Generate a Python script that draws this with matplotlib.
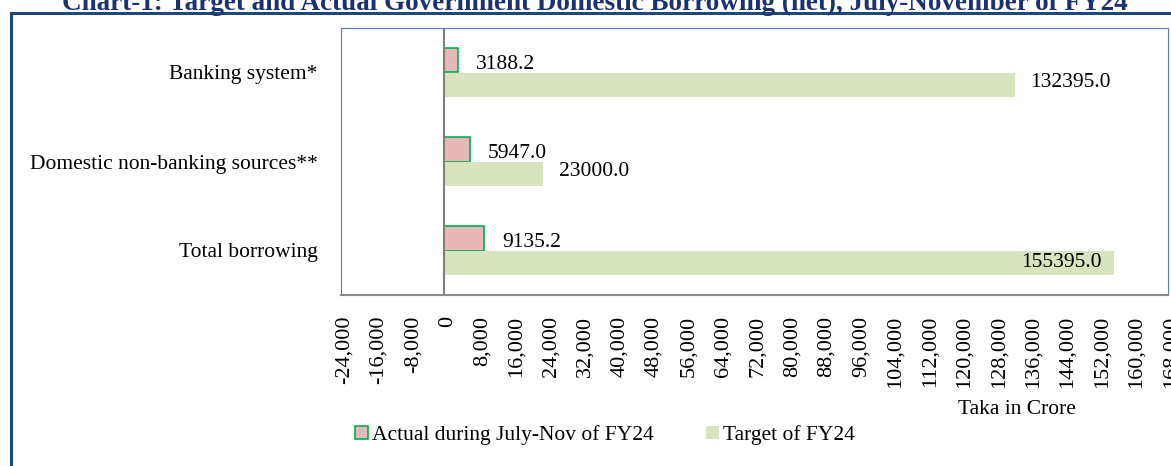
import numpy as np
import matplotlib.pyplot as plt
import matplotlib.transforms as mtransforms
from matplotlib.patches import Rectangle, Patch

plt.rcParams['font.family'] = ['Liberation Serif', 'DejaVu Serif']

# data
categories = ['Banking system*', 'Domestic non-banking sources**', 'Total borrowing']
actual = [3188.2, 5947.0, 9135.2]
target = [132395.0, 23000.0, 155395.0]
ticks = np.arange(-24000, 168001, 8000)

fig = plt.figure(figsize=(11.71, 4.66), dpi=100)
W, H = 1171, 466
fs = 15.5

# outer frame and title
fig.patches.append(Rectangle((11 / W, 0 - 0.05), 1.1, 1 - 13 / H + 0.05, transform=fig.transFigure,
                             fill=False, edgecolor='#1F497D', lw=2.2, clip_on=False))
fig.text(595 / W, 1 - 10 / H, 'Chart-1: Target and Actual Government Domestic Borrowing (net), July-November of FY24',
         ha='center', va='baseline', fontsize=19.5, fontweight='bold', color='#1A3370')

ax = fig.add_axes([341 / W, 1 - 295 / H, (1168 - 341) / W, (295 - 28) / H])
y = np.arange(len(categories)) + 0.5
h = 0.28
ax.barh(y - h / 2, actual, height=h, color='#E6B9B8', edgecolor='#00B050', lw=1.2,
        label='Actual during July-Nov of FY24')
ax.barh(y + h / 2, target, height=h, color='#D7E4BD', edgecolor='none', label='Target of FY24')
ax.axvline(0, color='#808080', lw=1.5)

ax.set_xlim(-24000, 168000)
ax.set_ylim(3, 0)
ax.set_yticks(y)
ax.set_yticklabels(categories, fontsize=fs)
ax.set_xticks(ticks)
ax.set_xticklabels([f'{t:,}' for t in ticks], rotation=90, fontsize=16, va='top')
ax.tick_params(axis='both', length=0)
ax.tick_params(axis='x', pad=15)
ax.tick_params(axis='y', pad=17)
shift = mtransforms.ScaledTranslation(3 / 100, 0, fig.dpi_scale_trans)
for lab in ax.get_xticklabels():
    lab.set_transform(lab.get_transform() + shift)
for s in ax.spines.values():
    s.set_color('#4F81BD')
ax.spines['bottom'].set_color('#8A8A8A')
ax.spines['bottom'].set_linewidth(1.5)

for yi, a in zip(y, actual):
    ax.annotate(f'{a:.1f}', (a, yi - h / 2), xytext=(13, -3), textcoords='offset points',
                ha='left', va='center', fontsize=fs)
for yi, t in zip(y, target):
    if t > 150000:
        ax.annotate(f'{t:.1f}', (t, yi + h / 2), xytext=(-9, 0), textcoords='offset points',
                    ha='right', va='center', fontsize=fs)
    else:
        ax.annotate(f'{t:.1f}', (t, yi + h / 2), xytext=(11, 2), textcoords='offset points',
                    ha='left', va='center', fontsize=fs)

fig.text(1017 / W, 1 - 410 / H, 'Taka in Crore', ha='center', va='center', fontsize=fs)

handles = [Patch(facecolor='#E6B9B8', edgecolor='#00B050', lw=1.2),
           Patch(facecolor='#D7E4BD', edgecolor='none')]
fig.legend(handles, ['Actual during July-Nov of FY24', 'Target of FY24'], loc='center',
           bbox_to_anchor=(605 / W, 1 - 435 / H), ncol=2, frameon=False, fontsize=fs,
           handlelength=0.6, handleheight=0.6, handletextpad=0.2, columnspacing=2.4)

fig.savefig('out.png', dpi=100)
